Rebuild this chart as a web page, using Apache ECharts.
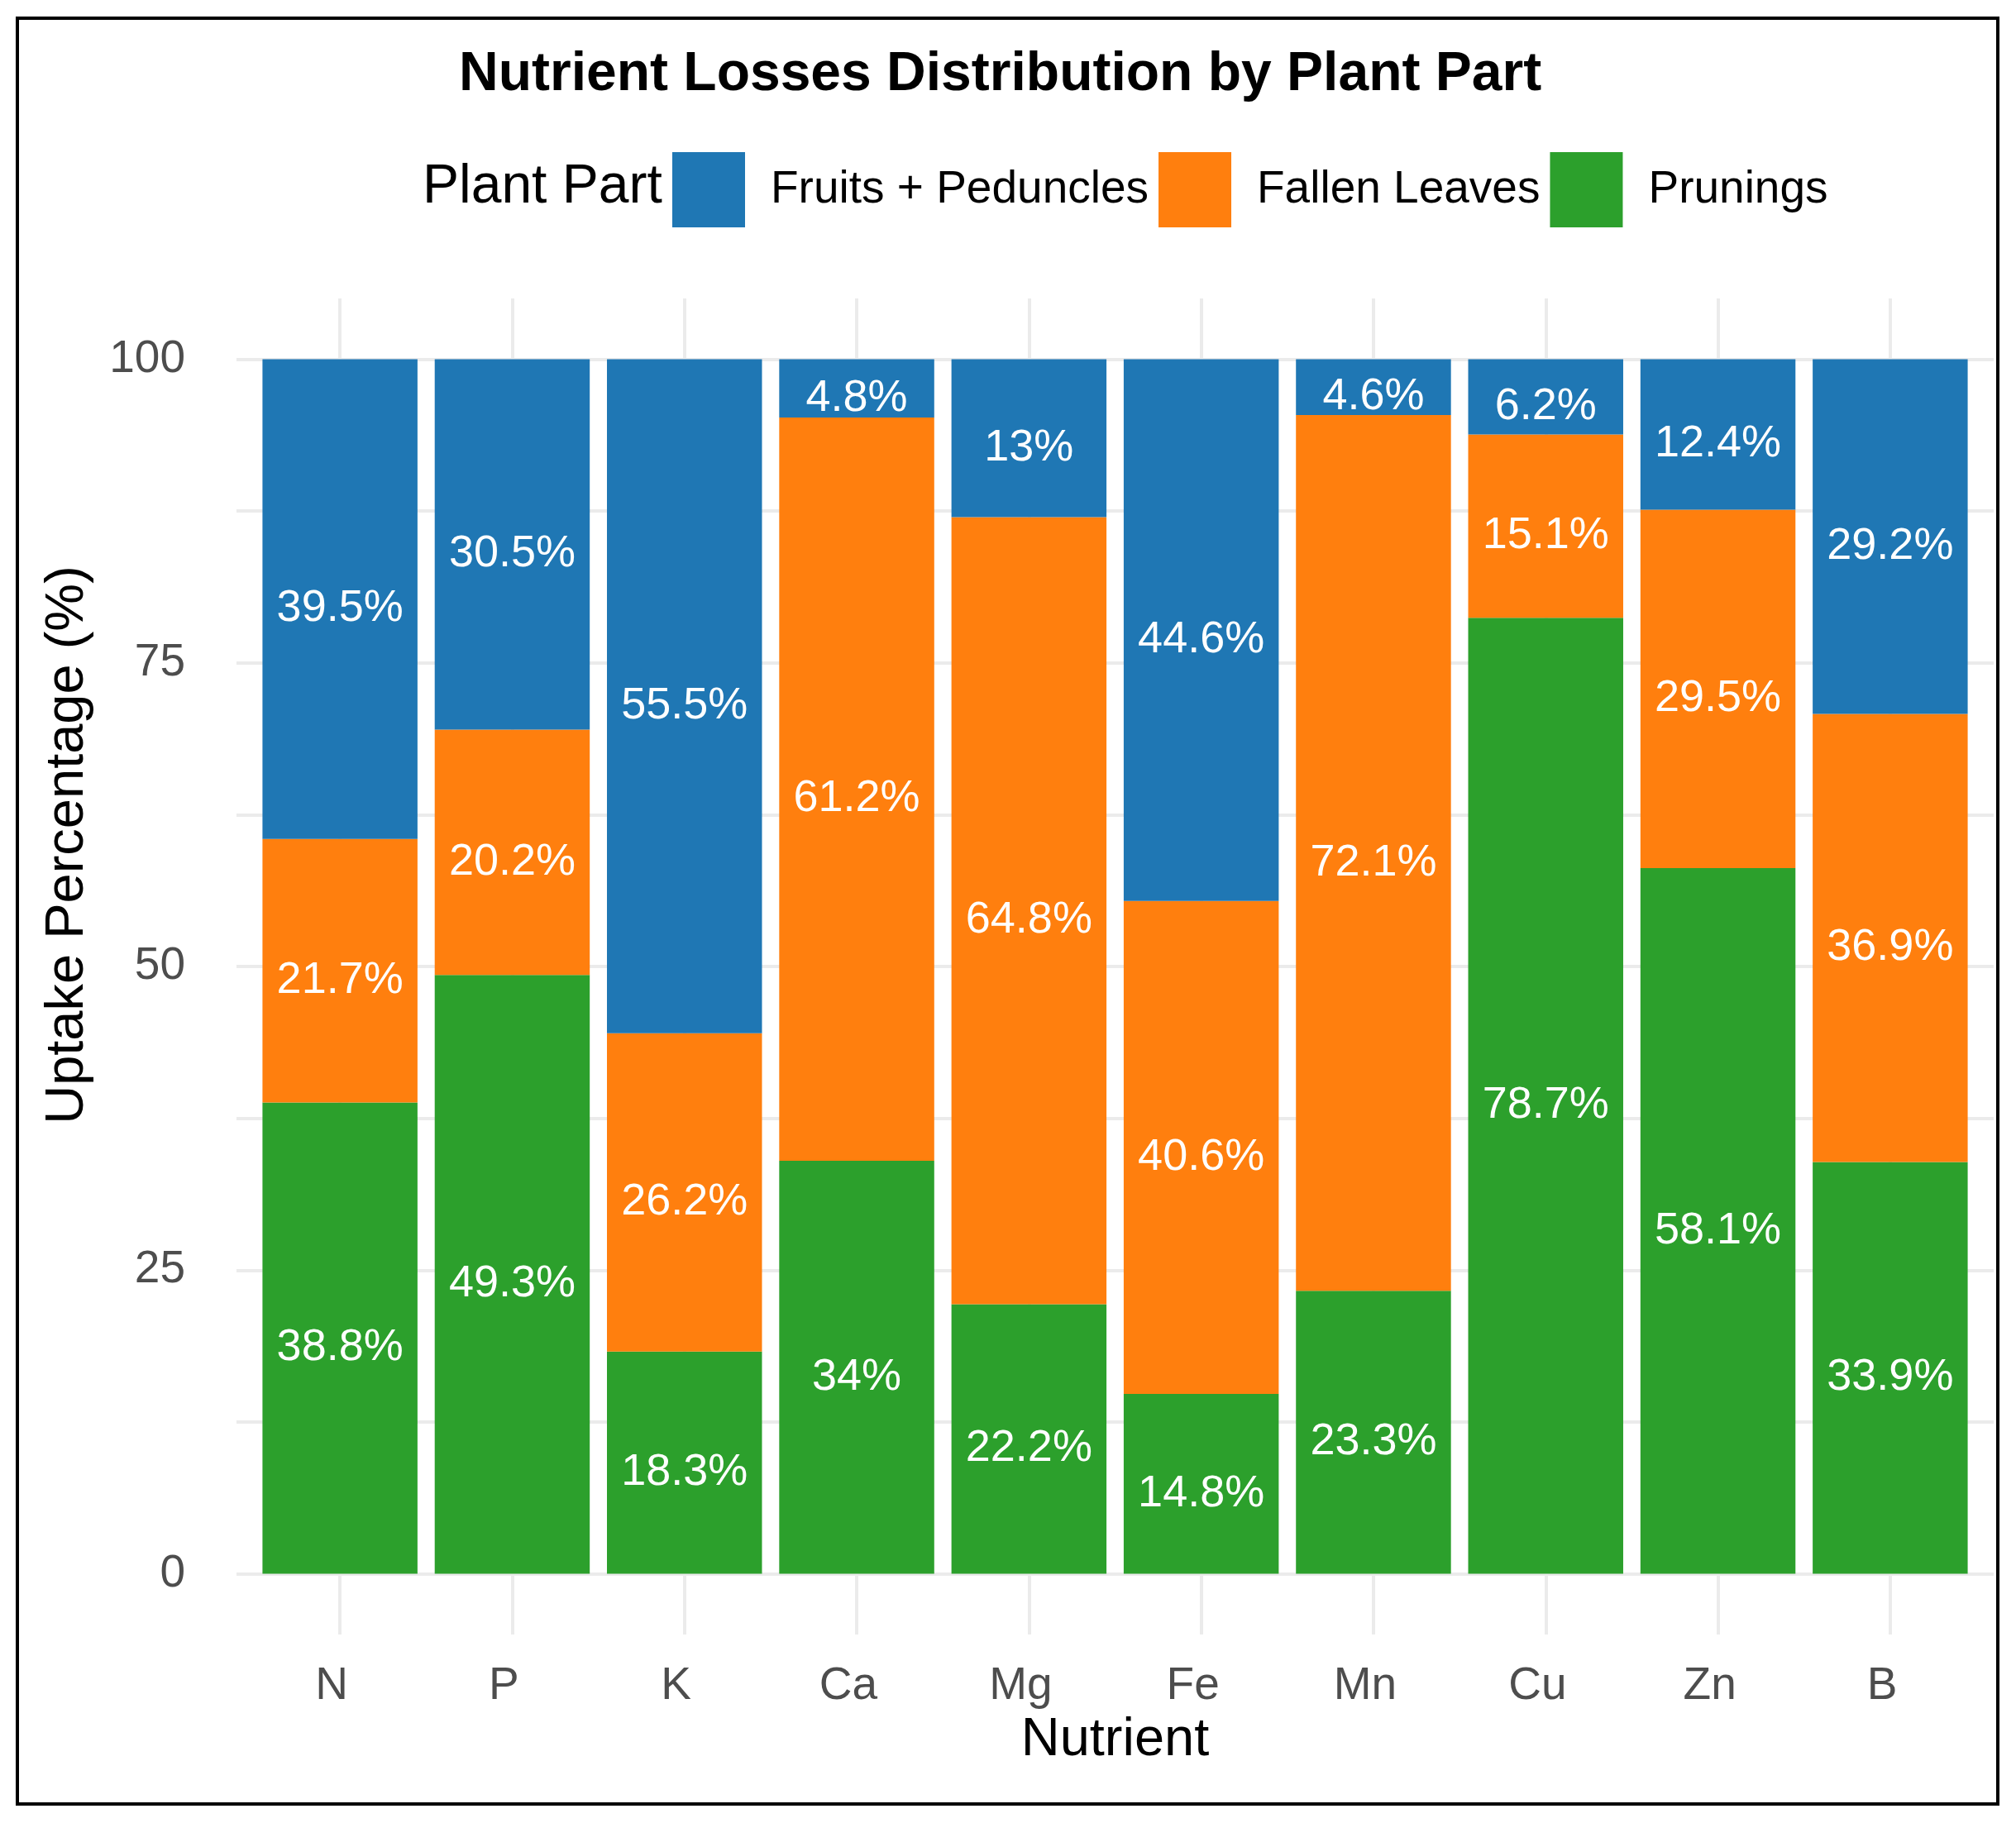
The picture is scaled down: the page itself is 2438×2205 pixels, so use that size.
<!DOCTYPE html>
<html lang="en">
<head>
<meta charset="UTF-8">
<title>Nutrient Losses Distribution by Plant Part</title>
<script src="https://cdn.jsdelivr.net/npm/echarts@6/dist/echarts.min.js"></script>
<style>
  * { margin: 0; padding: 0; }
  body { background: #fff; }
  #main { width: 2438px; height: 2205px; }
</style>
</head>
<body>
<div id="main"></div>
<script>
// data
var nutrients = ['N', 'P', 'K', 'Ca', 'Mg', 'Fe', 'Mn', 'Cu', 'Zn', 'B'];
var fruitsPeduncles = [39.5, 30.5, 55.5, 4.8, 13, 44.6, 4.6, 6.2, 12.4, 29.2];
var fallenLeaves = [21.7, 20.2, 26.2, 61.2, 64.8, 40.6, 72.1, 15.1, 29.5, 36.9];
var prunings = [38.8, 49.3, 18.3, 34, 22.2, 14.8, 23.3, 78.7, 58.1, 33.9];
var yTicks = [0, 25, 50, 75, 100];

var FONT = 'Liberation Sans, Arial, sans-serif';
var GRID = '#EBEBEB';
var T = 'rgba(0,0,0,0)';

function barSeries(name, data, color) {
    return {
        name: name,
        type: 'bar',
        stack: 'total',
        xAxisIndex: 1,
        yAxisIndex: 1,
        barWidth: '90%',
        itemStyle: { color: color },
        label: {
            show: true,
            position: 'inside',
            offset: [0, 12],
            color: '#fff',
            fontSize: 54,
            fontFamily: FONT,
            formatter: function (p) { return p.value + '%'; }
        },
        data: data
    };
}

var chart = echarts.init(document.getElementById('main'));
chart.setOption({
    animation: false,
    backgroundColor: '#fff',
    title: [
        {
            text: 'Nutrient Losses Distribution by Plant Part',
            left: 550, top: 53,
            textStyle: { fontFamily: FONT, fontSize: 66, fontWeight: 'bold', color: '#000' }
        },
        {
            text: 'Plant Part',
            left: 506, top: 189,
            textStyle: { fontFamily: FONT, fontSize: 66, fontWeight: 'normal', color: '#000' }
        }
    ],
    legend: {
        left: 808, top: 179,
        itemWidth: 88, itemHeight: 91, itemGap: 12,
        icon: 'rect',
        selectedMode: false,
        data: ['Fruits + Peduncles', 'Fallen Leaves', 'Prunings'],
        textStyle: { fontFamily: FONT, fontSize: 55, color: '#000', padding: [0, 0, 0, 26] }
    },
    grid: [
        { left: 286, right: 27, top: 361, bottom: 228 },
        { left: 307, right: 48, top: 361, bottom: 228 }
    ],
    xAxis: [
        {
            gridIndex: 0, type: 'value', min: 0.4, max: 10.6, interval: 0.2,
            axisLine: { show: false }, axisTick: { show: false },
            splitLine: { show: true, lineStyle: { color: [T, T, T, GRID, T], width: 4 } },
            axisLabel: {
                margin: 35, fontSize: 55, fontFamily: FONT, color: '#4D4D4D',
                padding: [0, 20, 0, 0],
                formatter: function (v) {
                    var r = Math.round(v);
                    if (Math.abs(v - r) < 1e-6 && r >= 1 && r <= nutrients.length) return nutrients[r - 1];
                    return '';
                }
            },
            name: 'Nutrient', nameLocation: 'middle', nameGap: 96,
            nameTextStyle: { fontFamily: FONT, fontSize: 65, color: '#000' }
        },
        {
            gridIndex: 1, type: 'category', data: nutrients,
            axisLine: { show: false }, axisTick: { show: false },
            axisLabel: { show: false }, splitLine: { show: false }
        }
    ],
    yAxis: [
        {
            gridIndex: 0, type: 'value', min: -5, max: 105, interval: 2.5,
            axisLine: { show: false }, axisTick: { show: false },
            splitLine: { show: true, lineStyle: { color: [T, T, GRID, T, T, T, T, GRID, T, T], width: 4 } },
            axisLabel: {
                margin: 62, fontSize: 55, fontFamily: FONT, color: '#4D4D4D',
                padding: [26, 0, 0, 0],
                formatter: function (v) {
                    var r = Math.round(v);
                    if (Math.abs(v - r) < 1e-6 && yTicks.indexOf(r) >= 0) return String(r);
                    return '';
                }
            }
        },
        {
            gridIndex: 1, type: 'value', min: -5, max: 105,
            axisLine: { show: false }, axisTick: { show: false },
            axisLabel: { show: false }, splitLine: { show: false }
        }
    ],
    graphic: [
        {
            type: 'text', x: 82, y: 1022, rotation: Math.PI / 2,
            style: {
                text: 'Uptake Percentage (%)', fill: '#000',
                fontSize: 65, fontFamily: FONT,
                textAlign: 'center', textVerticalAlign: 'middle',
                align: 'center', verticalAlign: 'middle'
            }
        },
        {
            type: 'rect', silent: true,
            shape: { x: 21, y: 22, width: 2395, height: 2160 },
            style: { fill: 'none', stroke: '#000', lineWidth: 4 }
        }
    ],
    series: [
        barSeries('Prunings', prunings, '#2CA02C'),
        barSeries('Fallen Leaves', fallenLeaves, '#FF7F0E'),
        barSeries('Fruits + Peduncles', fruitsPeduncles, '#1F77B4')
    ]
});
</script>
</body>
</html>
